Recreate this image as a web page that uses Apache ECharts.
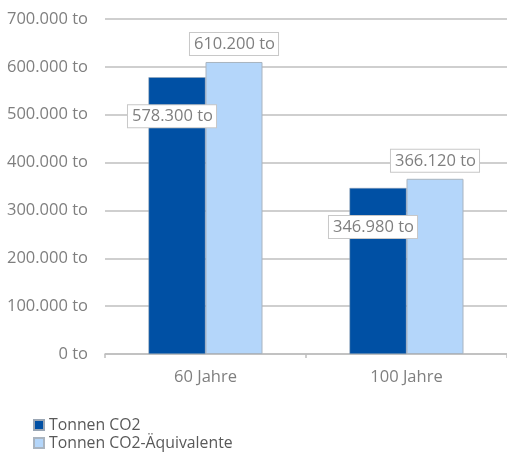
<!DOCTYPE html>
<html>
<head>
<meta charset="utf-8">
<script src="https://cdn.jsdelivr.net/npm/echarts@6/dist/echarts.min.js"></script>
<style>
  html, body { margin: 0; padding: 0; background: #fff; }
  #chart { width: 507px; height: 452px; }
</style>
</head>
<body>
<div id="chart"></div>
<script>
// Emissionen nach Betrachtungszeitraum
const categories = ['60 Jahre', '100 Jahre'];
const seriesNames = ['Tonnen CO2', 'Tonnen CO2-Äquivalente'];
const co2Values = [578300, 346980];
const co2eqValues = [610200, 366120];
const yTicks = [0, 100000, 200000, 300000, 400000, 500000, 600000, 700000];

const fontFamily = '"Open Sans", "Noto Sans", sans-serif';
const fontSize = 16.5;

function fmt(v) {
  return String(Math.round(v)).replace(/\B(?=(\d{3})+(?!\d))/g, '.') + ' to';
}

const boxLabel = {
  show: true,
  formatter: p => fmt(p.value),
  color: '#7f7f7f',
  fontFamily: fontFamily,
  fontSize: fontSize,
  backgroundColor: '#ffffff',
  borderColor: '#c8c8c8',
  borderWidth: 1,
  padding: [3, 3, 2, 4]
};

const chart = echarts.init(document.getElementById('chart'));
chart.setOption({
  animation: false,
  grid: { left: 105, right: 0, top: 19, bottom: 98 },
  legend: {
    orient: 'vertical',
    left: 28,
    top: 412,
    height: 60,
    itemWidth: 10,
    itemHeight: 10,
    itemGap: 2,
    icon: 'rect',
    textStyle: { color: '#595959', fontFamily: fontFamily, fontSize: 15.8 },
    data: seriesNames
  },
  xAxis: {
    type: 'category',
    data: categories,
    axisLine: { lineStyle: { color: '#bfbfbf', width: 1.5 } },
    axisTick: { show: true, length: 4, lineStyle: { color: '#bfbfbf', width: 1.5 } },
    axisLabel: { color: '#7f7f7f', fontFamily: fontFamily, fontSize: fontSize, margin: 15 }
  },
  yAxis: {
    type: 'value',
    min: yTicks[0],
    max: yTicks[yTicks.length - 1],
    interval: yTicks[1] - yTicks[0],
    axisLine: { show: false },
    axisTick: { show: false },
    splitLine: { lineStyle: { color: '#bfbfbf', width: 1.5 } },
    axisLabel: {
      color: '#7f7f7f',
      fontFamily: fontFamily,
      fontSize: fontSize,
      margin: 17,
      formatter: v => fmt(v)
    }
  },
  series: [
    {
      name: seriesNames[0],
      type: 'bar',
      data: co2Values,
      barWidth: 57,
      barGap: '0%',
      itemStyle: { color: '#0050a4', borderColor: '#9aa6b4', borderWidth: 0.5 },
      label: Object.assign({}, boxLabel, { position: 'insideTop', offset: [-5, 23] }),
      z: 4
    },
    {
      name: seriesNames[1],
      type: 'bar',
      data: co2eqValues,
      barWidth: 57,
      itemStyle: { color: '#b4d6fa', borderColor: '#a9b4c0', borderWidth: 1 },
      label: Object.assign({}, boxLabel, { position: 'top', distance: 7 }),
      labelLayout: { moveOverlap: false },
      z: 3
    }
  ]
});
</script>
</body>
</html>
